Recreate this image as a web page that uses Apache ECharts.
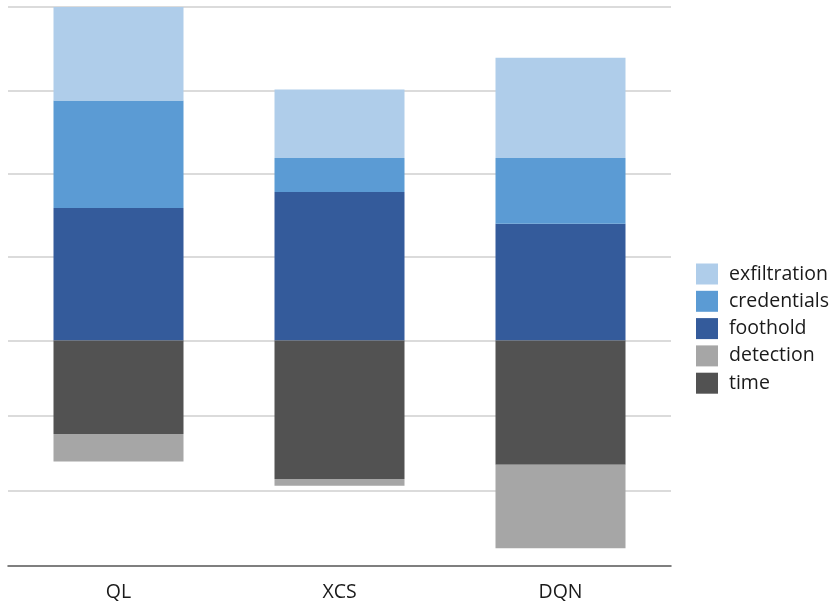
<!DOCTYPE html>
<html>
<head>
<meta charset="utf-8">
<script src="https://cdn.jsdelivr.net/npm/echarts@6/dist/echarts.min.js"></script>
<style>
html,body{margin:0;padding:0;background:#fff;}
#chart{width:835px;height:608px;}
</style>
</head>
<body>
<div id="chart"></div>
<script>
const categories = ['QL', 'XCS', 'DQN'];
const foothold = [1.59, 1.78, 1.40];
const credentials = [1.29, 0.41, 0.79];
const exfiltration = [1.12, 0.82, 1.20];
const time = [-1.12, -1.66, -1.49];
const detection = [-0.33, -0.08, -1.00];
const gridValues = [4, 3, 2, 1, 0, -0.9, -1.8];
const legendOrder = ['exfiltration', 'credentials', 'foothold', 'detection', 'time'];

const colors = {
  exfiltration: '#afcdea',
  credentials: '#5b9bd4',
  foothold: '#345b9b',
  detection: '#a6a6a6',
  time: '#525252'
};

function barSeries(name, data) {
  return {
    name: name,
    type: 'bar',
    stack: 'total',
    data: data,
    barWidth: 130,
    itemStyle: { color: colors[name] },
    z: 5
  };
}

const chart = echarts.init(document.getElementById('chart'), null, { renderer: 'canvas' });
chart.setOption({
  animation: false,
  backgroundColor: '#ffffff',
  textStyle: { fontFamily: 'Open Sans' },
  grid: { left: 8, width: 663, top: 7, bottom: 42.3, containLabel: false },
  legend: {
    data: legendOrder,
    orient: 'vertical',
    left: 696,
    top: 263.5,
    padding: 0,
    itemWidth: 22,
    itemHeight: 21,
    itemGap: 6.3,
    icon: 'rect',
    textStyle: { fontSize: 19.5, color: '#1a1a1a', fontFamily: 'Open Sans', padding: [0, 0, 0, 6] },
    selectedMode: false
  },
  xAxis: {
    type: 'category',
    data: categories,
    axisLine: { show: true, onZero: false, lineStyle: { color: '#555555', width: 1.5 } },
    axisTick: { show: false },
    axisLabel: { fontSize: 19.5, color: '#1a1a1a', margin: 16.5, fontFamily: 'Open Sans' },
    splitLine: { show: false }
  },
  yAxis: {
    type: 'value',
    min: -2.7,
    max: 4,
    axisLine: { show: false },
    axisTick: { show: false },
    axisLabel: { show: false },
    splitLine: { show: false }
  },
  series: [
    {
      name: 'grid',
      type: 'line',
      data: [],
      silent: true,
      z: 0,
      markLine: {
        silent: true,
        z: 0,
        symbol: 'none',
        label: { show: false },
        animation: false,
        lineStyle: { color: '#cfcfcf', width: 1.5, type: 'solid' },
        data: gridValues.map(v => ({ yAxis: v }))
      }
    },
    barSeries('foothold', foothold),
    barSeries('credentials', credentials),
    barSeries('exfiltration', exfiltration),
    barSeries('time', time),
    barSeries('detection', detection)
  ]
});
</script>
</body>
</html>
